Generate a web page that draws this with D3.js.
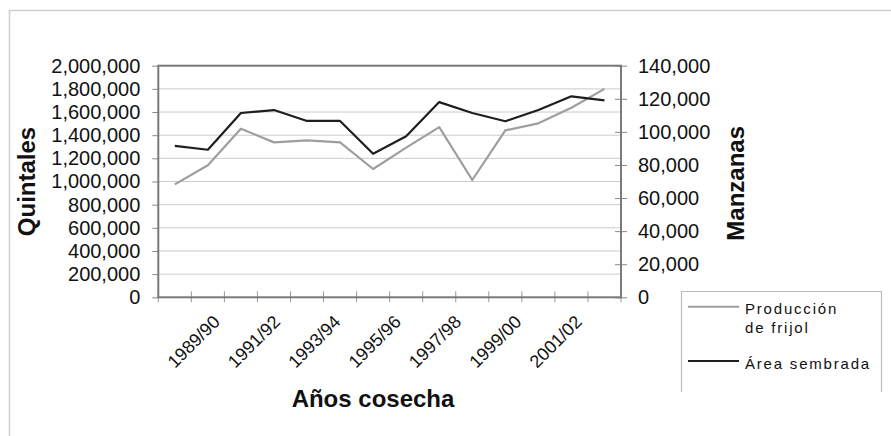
<!DOCTYPE html>
<html>
<head>
<meta charset="utf-8">
<script src="https://cdn.jsdelivr.net/npm/d3@7"></script>
<style>
  html, body { margin: 0; padding: 0; background: #fff; }
  svg { display: block; font-family: "Liberation Sans", Arial, sans-serif; }
</style>
</head>
<body>
<svg id="chart" width="891" height="436"></svg>
<script>
// Harvest years (ciclos agrícolas)
const categories = ["1988/89","1989/90","1990/91","1991/92","1992/93","1993/94","1994/95",
                    "1995/96","1996/97","1997/98","1998/99","1999/00","2000/01","2001/02"];
// Bean production, quintales (left axis)
const produccion = [975000, 1140000, 1456000, 1338000, 1355000, 1338000, 1108000,
                    1292000, 1470000, 1013000, 1442000, 1502000, 1637000, 1800000];
// Planted area, manzanas (right axis)
const area = [91500, 89200, 111400, 113200, 106600, 106600, 86800,
              97300, 118000, 111400, 106400, 113200, 121500, 119000];
// Categories that carry a label on the x axis
const labelledCats = ["1989/90","1991/92","1993/94","1995/96","1997/98","1999/00","2001/02"];
const leftTicks = [0,200000,400000,600000,800000,1000000,1200000,1400000,1600000,1800000,2000000];
const rightTicks = [0,20000,40000,60000,80000,100000,120000,140000];

const svg = d3.select("#chart");
const plot = { left: 158.3, right: 621, top: 65.7, bottom: 297.3 };
const fmt = d3.format(",");

// outer frame (right and bottom edges fall outside the canvas)
svg.append("path")
  .attr("d", "M9.5,440 V10.5 H900")
  .attr("fill", "none").attr("stroke", "#cfcfcf").attr("stroke-width", 1.5);

const x = d3.scaleBand().domain(categories).range([plot.left, plot.right]).padding(0);
const yL = d3.scaleLinear().domain([0, 2000000]).range([plot.bottom, plot.top]);
const yR = d3.scaleLinear().domain([0, 140000]).range([plot.bottom, plot.top]);
const xLabel = d3.scalePoint().domain(labelledCats).range([221, 583]);

// horizontal gridlines
svg.append("g").selectAll("line").data(leftTicks.slice(1, -1)).join("line")
  .attr("x1", plot.left).attr("x2", plot.right)
  .attr("y1", d => yL(d)).attr("y2", d => yL(d))
  .attr("stroke", "#cbcbcb").attr("stroke-width", 1);

// left axis
const gL = svg.append("g").attr("transform", `translate(${plot.left},0)`)
  .call(d3.axisLeft(yL).tickValues(leftTicks).tickFormat(fmt).tickSize(6).tickPadding(12));
gL.select(".domain").remove();
gL.selectAll(".tick line").attr("stroke", "#888");
gL.selectAll(".tick text").attr("font-size", 20).attr("fill", "#111")
  .attr("font-family", "Liberation Sans, Arial, sans-serif");

// right axis (ticks cross the frame)
const gR = svg.append("g").attr("transform", `translate(${plot.right},0)`)
  .call(d3.axisRight(yR).tickValues(rightTicks).tickFormat(fmt).tickSize(6).tickPadding(11));
gR.select(".domain").remove();
gR.selectAll(".tick line").attr("x1", -6).attr("stroke", "#888");
gR.selectAll(".tick text").attr("font-size", 20).attr("fill", "#111")
  .attr("font-family", "Liberation Sans, Arial, sans-serif");

// bottom axis: tick marks at category boundaries
const bounds = categories.map(c => x(c)).concat([plot.right]);
svg.append("g").selectAll("line").data(bounds).join("line")
  .attr("x1", d => d).attr("x2", d => d)
  .attr("y1", plot.bottom - 6).attr("y2", plot.bottom + 5)
  .attr("stroke", "#999").attr("stroke-width", 1);

// category labels, rotated
svg.append("g").selectAll("text").data(labelledCats).join("text")
  .attr("transform", d => `translate(${xLabel(d)},323) rotate(-45)`)
  .attr("text-anchor", "end")
  .attr("font-size", 18).attr("fill", "#111")
  .text(d => d);

// plot frame
svg.append("rect")
  .attr("x", plot.left).attr("y", plot.top)
  .attr("width", plot.right - plot.left).attr("height", plot.bottom - plot.top)
  .attr("fill", "none").attr("stroke", "#7a7a7a").attr("stroke-width", 2);

// series
const cx = d => x(d) + x.bandwidth() / 2;
const lineL = d3.line().x((d, i) => cx(categories[i])).y(d => yL(d));
const lineR = d3.line().x((d, i) => cx(categories[i])).y(d => yR(d));

svg.append("path").datum(produccion).attr("d", lineL)
  .attr("fill", "none").attr("stroke", "#9e9e9e").attr("stroke-width", 2.2)
  .attr("stroke-linejoin", "round");
svg.append("path").datum(area).attr("d", lineR)
  .attr("fill", "none").attr("stroke", "#1e1e1e").attr("stroke-width", 2.2)
  .attr("stroke-linejoin", "round");

// axis titles
svg.append("text").attr("transform", "translate(35,181.5) rotate(-90)")
  .attr("text-anchor", "middle").attr("font-size", 24).attr("font-weight", "bold")
  .attr("fill", "#111").text("Quintales");
svg.append("text").attr("transform", "translate(744,183.3) rotate(-90)")
  .attr("text-anchor", "middle").attr("font-size", 24).attr("font-weight", "bold")
  .attr("fill", "#111").text("Manzanas");
svg.append("text").attr("x", 373).attr("y", 406.5)
  .attr("text-anchor", "middle").attr("font-size", 24).attr("font-weight", "bold")
  .attr("fill", "#111").text("Años cosecha");

// legend
const legend = svg.append("g");
legend.append("path").attr("d", "M681.5,392 V291.5 H881.5 V392")
  .attr("fill", "none").attr("stroke", "#bdbdbd").attr("stroke-width", 1.2);
const items = [
  { name: ["Producción", "de frijol"], color: "#9e9e9e", y: 306.7 },
  { name: ["Área sembrada"], color: "#1e1e1e", y: 361 }
];
items.forEach(it => {
  legend.append("line").attr("x1", 688).attr("x2", 739)
    .attr("y1", it.y).attr("y2", it.y)
    .attr("stroke", it.color).attr("stroke-width", 2);
  const t = legend.append("text").attr("x", 745).attr("y", it.y + 7.5)
    .attr("font-size", 15).attr("letter-spacing", 1.8).attr("fill", "#111");
  it.name.forEach((s, k) => t.append("tspan").attr("x", 745).attr("dy", k ? 18.5 : 0).text(s));
});
</script>
</body>
</html>
